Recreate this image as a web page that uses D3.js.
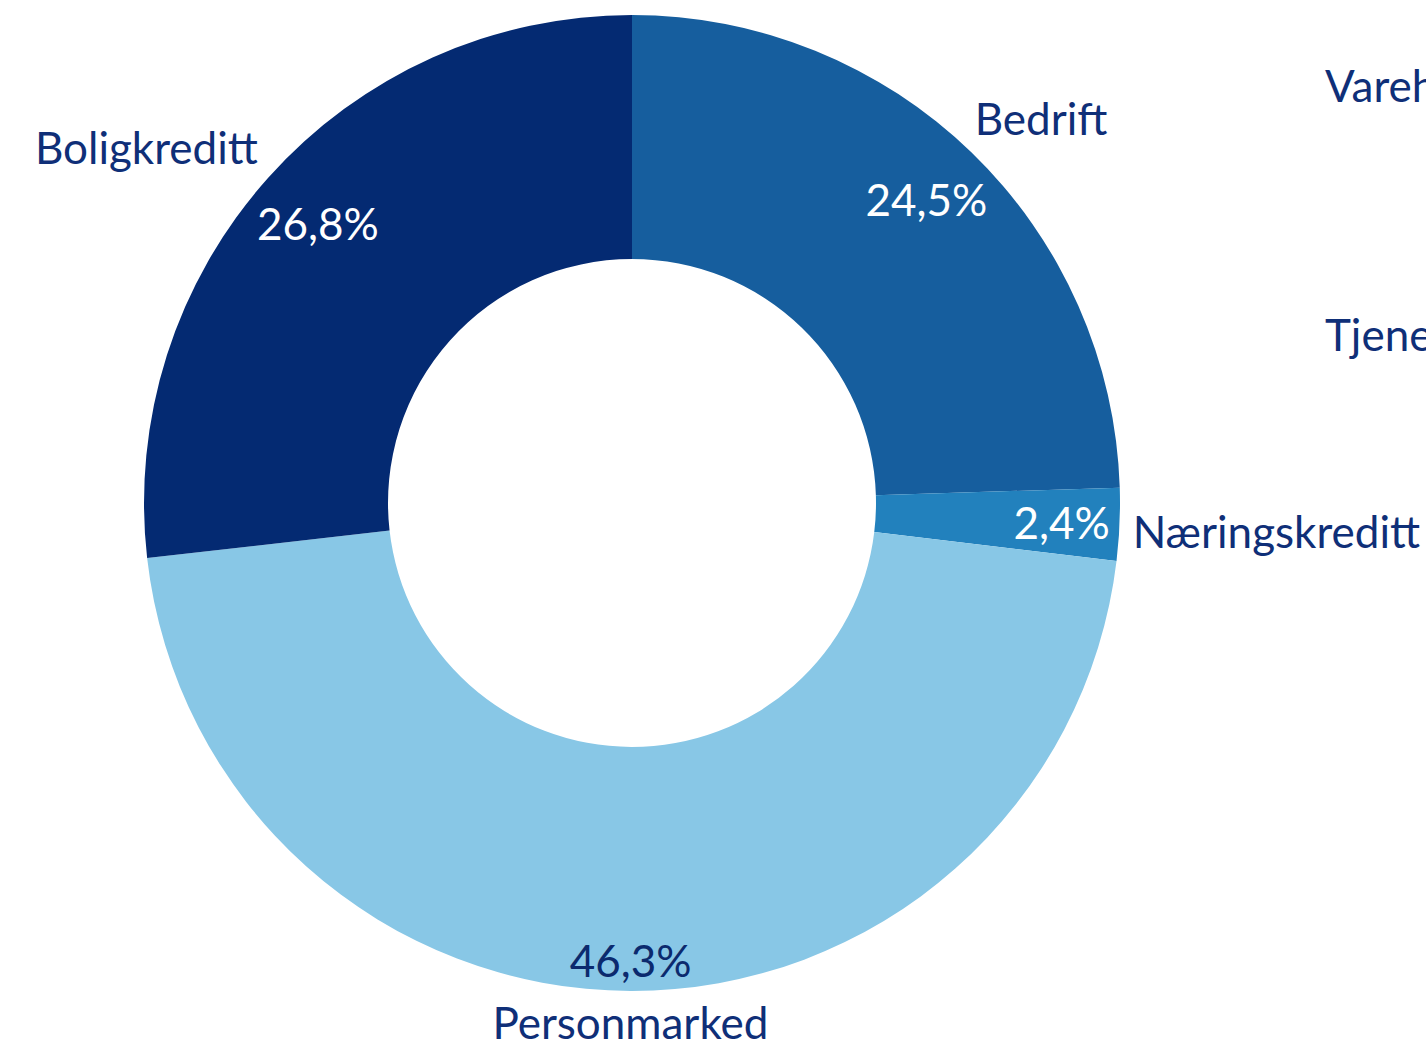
<!DOCTYPE html>
<html lang="no">
<head>
<meta charset="UTF-8">
<title>Utlån fordelt på segment</title>
<script src="https://cdnjs.cloudflare.com/ajax/libs/d3/7.8.5/d3.min.js"></script>
<style>
  body { margin: 0; background: #fff; }
  svg { display: block; }
  text { font-family: Lato, "Open Sans", sans-serif; }
</style>
</head>
<body>
<div id="chart"></div>
<script>
// segments, clockwise from 12 o'clock
var segments = ["Bedrift", "Næringskreditt", "Personmarked", "Boligkreditt"];
var shares = [24.5, 2.4, 46.3, 26.8];
var colours = ["#165e9e", "#2281bd", "#88c7e6", "#042a72"];
var valueColours = ["#ffffff", "#ffffff", "#0b2a6e", "#ffffff"];
// labels from the neighbouring chart, cut by the right edge
var sideLabels = ["Varehandel", "Tjenesteyting"];

var w = 1426, h = 1050;
var cx = 632, cy = 503;
var outerR = 488, innerR = 244;
var textColour = "#0f2f78";
var fontSize = 44;
// small hand nudges for the outside labels, as the original tool placed them
var nameNudge = { "Bedrift": [20, 16], "Boligkreditt": [-44, 38] };

var svg = d3.select("#chart").append("svg")
    .attr("width", w)
    .attr("height", h);

var g = svg.append("g").attr("transform", "translate(" + cx + "," + cy + ")");

var data = segments.map(function(s, i) {
    return { name: s, value: shares[i], colour: colours[i], valueColour: valueColours[i] };
});

var pie = d3.pie().sort(null).value(function(d) { return d.value; });
var arc = d3.arc().innerRadius(innerR).outerRadius(outerR);
var arcs = pie(data);

g.selectAll("path.slice")
    .data(arcs)
    .enter().append("path")
    .attr("class", "slice")
    .attr("d", arc)
    .attr("fill", function(d) { return d.data.colour; });

var fmt = function(v) { return d3.format(".1f")(v).replace(".", ",") + "%"; };

// distance from origin to nearest / farthest point of a box
function nearDist(x, y, bw, bh) {
    var dx = Math.max(Math.abs(x) - bw / 2, 0);
    var dy = Math.max(Math.abs(y) - bh / 2, 0);
    return Math.sqrt(dx * dx + dy * dy);
}
function farDist(x, y, bw, bh) {
    var dx = Math.abs(x) + bw / 2;
    var dy = Math.abs(y) + bh / 2;
    return Math.sqrt(dx * dx + dy * dy);
}

function placeLabel(sel, d, mode) {
    var bb = sel.node().getBBox();
    var a = (d.startAngle + d.endAngle) / 2;
    var sx = Math.sin(a), sy = -Math.cos(a);
    var r, x, y;
    if (mode === "inside") {
        // inside end: largest radius that keeps the text in the ring
        for (r = outerR; r > 0; r -= 1) {
            x = r * sx; y = r * sy;
            if (farDist(x, y, bb.width, bb.height * 0.7) <= outerR - 8) break;
        }
    } else {
        // outside end: smallest radius that clears the ring
        for (r = outerR; r < outerR + 300; r += 1) {
            x = r * sx; y = r * sy;
            if (nearDist(x, y, bb.width, bb.height * 0.7) >= outerR + 12) break;
        }
        var n = nameNudge[d.data.name];
        if (n) { x += n[0]; y += n[1]; }
    }
    sel.attr("x", x).attr("y", y);
}

var values = g.selectAll("text.value")
    .data(arcs)
    .enter().append("text")
    .attr("class", "value")
    .attr("text-anchor", "middle")
    .attr("dominant-baseline", "central")
    .attr("font-size", fontSize)
    .attr("fill", function(d) { return d.data.valueColour; })
    .text(function(d) { return fmt(d.data.value); });
values.each(function(d) { placeLabel(d3.select(this), d, "inside"); });

var names = g.selectAll("text.name")
    .data(arcs)
    .enter().append("text")
    .attr("class", "name")
    .attr("text-anchor", "middle")
    .attr("dominant-baseline", "central")
    .attr("font-size", fontSize)
    .attr("fill", textColour)
    .text(function(d) { return d.data.name; });
names.each(function(d) { placeLabel(d3.select(this), d, "outside"); });

svg.selectAll("text.side")
    .data(sideLabels)
    .enter().append("text")
    .attr("class", "side")
    .attr("x", 1325)
    .attr("y", function(d, i) { return i === 0 ? 102 : 351; })
    .attr("font-size", fontSize)
    .attr("fill", textColour)
    .text(function(d) { return d; });
</script>
</body>
</html>
